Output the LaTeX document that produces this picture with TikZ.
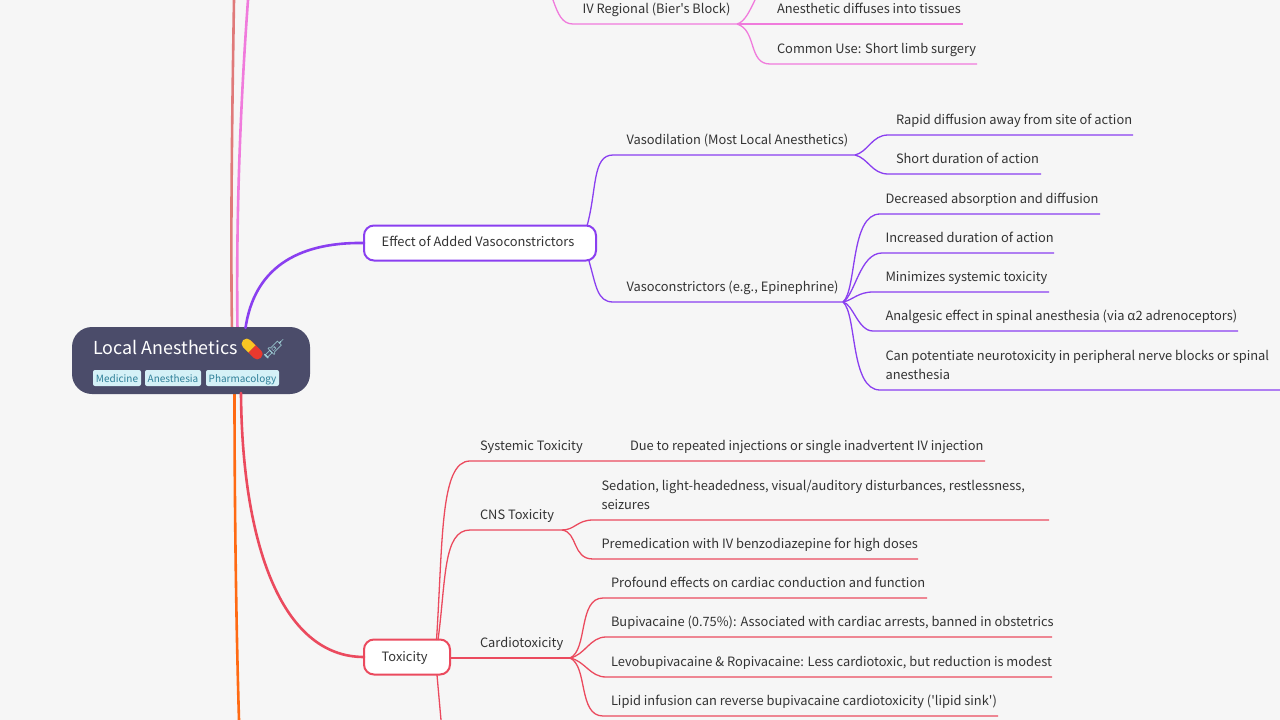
\documentclass[tikz,border=0pt]{standalone}
\usepackage{fontspec}
\setmainfont[Ligatures=TeXOff]{Noto Sans CJK SC}
\newfontfamily\emojifont{Noto Emoji}
\definecolor{bgc}{HTML}{F6F6F6}
\definecolor{inkc}{HTML}{333333}
\definecolor{purplec}{HTML}{8A3FF0}
\definecolor{redc}{HTML}{EB4A5E}
\definecolor{orangec}{HTML}{FF6A13}
\definecolor{pinkc}{HTML}{F07BDC}
\definecolor{salmonc}{HTML}{E07A7A}
\definecolor{rootc}{HTML}{4B4C6A}
\definecolor{tagc}{HTML}{D5F1F7}
\definecolor{tagtext}{HTML}{2E7F98}
\definecolor{pillred}{HTML}{E9392E}
\definecolor{pillyel}{HTML}{F9C623}
\definecolor{syrc}{HTML}{9CCAD2}
\tikzset{
  x=1pt,y=-1pt,
  leaf/.style={anchor=south west,inner xsep=0pt,inner ysep=0pt,outer sep=0pt,align=left,text=inkc,text depth=4pt,font=\fontsize{12.87}{19}\selectfont},
  sub/.style={rounded corners=10pt,draw=#1,line width=2pt,fill=white,anchor=west,inner sep=0pt,outer sep=0pt},
  subtext/.style={anchor=base west,inner sep=0pt,text=inkc,font=\fontsize{12.87}{19}\selectfont},
  main/.style={line width=2.6pt,line cap=round},
  thin/.style={line width=1.3pt},
  tag/.style={fill=tagc,rounded corners=2pt,text=tagtext,font=\fontsize{10}{12}\selectfont,inner xsep=0pt,inner ysep=0pt,text height=8pt,text depth=0pt,minimum height=16pt,anchor=west,outer sep=0pt,align=center},
}
% \lf{name}{x start of line}{y of line}{x end of line}{x text}{text}
\newcommand{\lf}[6]{%
  \coordinate (#1s) at (#2,#3);
  \coordinate (#1e) at (#4,#3);
  \node[leaf] (#1) at (#5,#3-6.4) {#6};
}
\begin{document}
\begin{tikzpicture}
\useasboundingbox (0,0) rectangle (1280,720);
\fill[bgc] (0,0) rectangle (1280,720);

% main branches
\coordinate (topA) at (234,0);
\coordinate (topB) at (248,0);
\coordinate (botO) at (239,720);
\draw[main,salmonc] (topA) .. controls (232,120) and (230.5,240) .. (232,330);
\draw[main,pinkc] (topB) .. controls (240,110) and (236,220) .. (237.5,330);
\draw[main,orangec] (234.5,390) .. controls (234.5,500) and (236,620) .. (botO);

% root
\node[fill=rootc,rounded corners=20pt,minimum width=238pt,minimum height=67pt,inner sep=0pt,outer sep=0pt] (root) at (191,360.5) {};
\node[anchor=base west,inner sep=0pt,text=white,font=\fontsize{17.9}{22}\selectfont] (title) at (93,354) {Local Anesthetics};
\node[anchor=base west,inner sep=0pt,text=pillred,font=\emojifont\fontsize{17}{22}\selectfont] (pill) at (243,355) {💊};
\begin{scope}[shift={(252,349)},rotate=-45]
  \begin{scope}
    \clip (-14,-7) rectangle (0,7);
    \fill[pillyel,rounded corners=4.9pt] (-12.5,-5.1) rectangle (12.5,5.1);
  \end{scope}
  \begin{scope}
    \clip (0,-7) rectangle (14,7);
    \fill[pillred,rounded corners=4.9pt] (-12.5,-5.1) rectangle (12.5,5.1);
  \end{scope}
\end{scope}
\node[anchor=base west,inner sep=0pt,text=syrc,font=\emojifont\fontsize{21}{22}\selectfont] (syr) at (260.5,356.5) {💉};
\node[tag,minimum width=48pt] (t1) at (93,378) {Medicine};
\node[tag,minimum width=56pt] (t2) at (145,378) {Anesthesia};
\node[tag,minimum width=73pt] (t3) at (206,378) {Pharmacology};

% Vasoconstrictors
\node[sub=purplec,minimum width=232pt,minimum height=35pt] (eff) at (364,243) {};
\node[subtext] (efft) at (381.5,246) {Effect of Added Vasoconstrictors};
\draw[main,purplec] (245.5,328) .. controls (254,270) and (295,242) .. (eff.west);
\lf{va}{613}{155}{855}{626.5}{Vasodilation (Most Local Anesthetics)}
\lf{vb}{613}{302}{843}{626.5}{Vasoconstrictors (e.g., Epinephrine)}
\draw[thin,purplec] (587,226) .. controls (597,190) and (592,155) .. (vas) -- (vae);
\draw[thin,purplec] (589,261) .. controls (596,285) and (597,302) .. (vbs) -- (vbe);
\lf{a}{888}{135}{1133}{896}{Rapid diffusion away from site of action}
\lf{b}{888}{174}{1041}{896}{Short duration of action}
\draw[thin,purplec] (vae) .. controls (868,152) and (872,135) .. (as) -- (ae);
\draw[thin,purplec] (vae) .. controls (868,158) and (872,174) .. (bs) -- (be);
\lf{c}{880}{214}{1100}{885.5}{Decreased absorption and diffusion}
\lf{d}{882}{253}{1054}{885.5}{Increased duration of action}
\lf{e}{873}{292}{1049}{885.5}{Minimizes systemic toxicity}
\lf{f}{873}{331}{1238}{885.5}{Analgesic effect in spinal anesthesia (via α2 adrenoceptors)}
\lf{g}{880}{390}{1280}{885.5}{Can potentiate neurotoxicity in peripheral nerve blocks or spinal\\anesthesia}
\draw[thin,purplec] (vbe) .. controls (857,290) and (850,214) .. (cs) -- (ce);
\draw[thin,purplec] (vbe) .. controls (855,295) and (860,253) .. (ds) -- (de);
\draw[thin,purplec] (vbe) .. controls (853,300) and (858,292) .. (es) -- (ee);
\draw[thin,purplec] (vbe) .. controls (853,304) and (858,331) .. (fs) -- (fe);
\draw[thin,purplec] (vbe) .. controls (857,314) and (850,390) .. (gs) -- (ge);

% Toxicity
\node[sub=redc,minimum width=86pt,minimum height=35pt] (tox) at (364,657) {};
\node[subtext] (toxt) at (381.5,661) {Toxicity};
\draw[main,redc] (241,393) .. controls (242,540) and (280,657) .. (tox.west);
\lf{sy}{470}{461}{985}{480}{Systemic Toxicity}
\lf{sy2}{610}{461}{985}{630}{Due to repeated injections or single inadvertent IV injection}
\lf{cn}{470}{530}{562}{480}{CNS Toxicity}
\lf{ca}{450}{658}{570}{480}{Cardiotoxicity}
\draw[thin,redc] (436.5,640) .. controls (443,540) and (440,461) .. (sys) -- (sye);
\draw[thin,redc] (438,640) .. controls (446,580) and (443,530) .. (cns) -- (cne);
\draw[thin,redc] (tox.east |- cas) -- (cae);
\coordinate (dn) at (441,720);
\draw[thin,redc] (437,675) -- (dn);
\lf{h}{593}{520}{1049}{601.5}{Sedation, light-headedness, visual/auditory disturbances, restlessness,\\seizures}
\lf{i}{593}{559}{918}{601.5}{Premedication with IV benzodiazepine for high doses}
\draw[thin,redc] (cne) .. controls (575,530) and (577,520) .. (hs) -- (he);
\draw[thin,redc] (cne) .. controls (578,532) and (572,559) .. (is) -- (ie);
\lf{j}{603}{598}{927}{611}{Profound effects on cardiac conduction and function}
\lf{k}{606}{637}{1052}{611}{Bupivacaine (0.75\%): Associated with cardiac arrests, banned in obstetrics}
\lf{l}{606}{677}{1052}{611}{Levobupivacaine \& Ropivacaine: Less cardiotoxic, but reduction is modest}
\lf{m}{603}{716}{998}{611}{Lipid infusion can reverse bupivacaine cardiotoxicity ('lipid sink')}
\draw[thin,redc] (cae) .. controls (588,650) and (578,598) .. (js) -- (je);
\draw[thin,redc] (cae) .. controls (585,655) and (590,637) .. (ks) -- (ke);
\draw[thin,redc] (cae) .. controls (585,661) and (590,677) .. (ls) -- (le);
\draw[thin,redc] (cae) .. controls (588,666) and (578,716) .. (ms) -- (me);

% IV regional
\lf{iv}{573}{24}{737}{582.5}{IV Regional (Bier's Block)}
\coordinate (ivt) at (553,0);
\draw[thin,pinkc] (ivt) .. controls (558,14) and (562,24) .. (ivs) -- (ive);
\lf{n}{737}{24}{963}{777}{Anesthetic diffuses into tissues}
\coordinate (nt) at (755,0);
\draw[thin,pinkc] (ive) .. controls (745,22) and (750,10) .. (nt);
\draw[thin,pinkc] (ive) -- (ne);
\lf{o}{770}{64}{977}{777}{Common Use: Short limb surgery}
\draw[thin,pinkc] (ive) .. controls (757,30) and (748,64) .. (os) -- (oe);
\end{tikzpicture}
\end{document}
